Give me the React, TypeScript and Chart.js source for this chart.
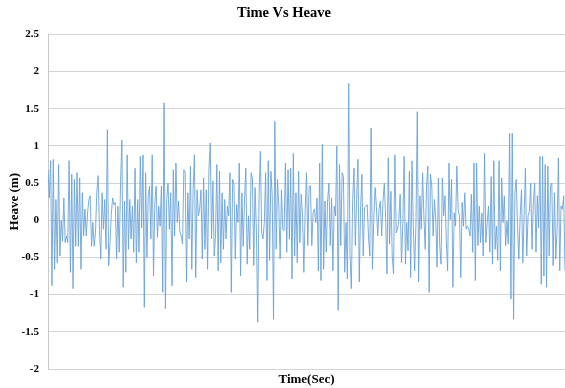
import React, { useEffect, useRef } from "react";
import { Chart, registerables } from "chart.js";

Chart.register(...registerables);

const heaveSegA = [
  0.68, 0.3, 0.8, -0.88, 0.82, -0.66, 0.28, -0.57, 0.75, -0.48, 0.0, -0.28, 0.3, -0.3, -0.21, -0.3, 0.8, -0.7,
  0.62, -0.92, 0.55, -0.35, 0.64, -0.35, 0.57, -0.66, 0.37, -0.21, 0.15, -0.21, 0.1, 0.28, 0.33, -0.35, -0.03,
  -0.35, -0.16, 0.37, 0.6, -0.12, -0.52, 0.37, -0.12, 0.28, -0.39, 1.22, -0.61, -0.3, 0.08, 0.3, 0.21, 0.24,
  -0.52, 0.19, -0.43, 0.5, 1.08, -0.9, 0.26, -0.7,
];
const heaveSegB = [
  0.88, -0.39, 0.28, -0.25, 0.19, -0.43, 0.7, -0.57, 0.28, -0.43, 0.86, -0.1, 0.88, -1.17, 0.64, -0.5, 0.33,
  0.46, -0.25, 0.88, -0.75, 0.24, 0.46, -0.23, 0.19, -0.08, 0.46, -0.97, 1.58, -1.19, 0.28, 0.5, -0.12, 0.37,
  -0.88, 0.68, -0.21, 0.77, -0.03, 0.26, -0.16, -0.21, -0.32, 0.68, 0.64, -0.83, 0.37, -0.25, 0.73, -0.66, 0.41,
  0.88, -0.77, 0.41, 0.06, 0.15, 0.41, -0.52, 0.57, -0.39, 0.41, -0.66, 0.68, 1.04, -0.25, 0.53, -0.48,
];
const heaveSegC = [
  -0.21, 0.75, -0.68, 0.66, -0.57, 0.37, -0.39, 0.28, -0.25, 0.19, 0.06, 0.64, -0.97, 0.55, 0.48, -0.52, 0.21,
  -0.03, 0.77, -0.75, 0.37, -0.35, 0.28, 0.7, -0.59, 0.06, -0.39, 0.64, 0.57, -0.61, 0.44, -0.12, -1.37, 0.33,
  0.93, -0.17, -0.25, -0.03, 0.64, -0.81, 0.8, -0.54, 0.66, 0.33, -1.33, 1.33, -0.39, 0.55, 0.19, -0.52, 0.41,
  -0.12, -0.14, 0.77, -0.43, 0.68, -0.25, 0.7, -0.79, 0.9, -0.48, 0.37, -0.57, 0.66,
];
const heaveSegD = [
  -0.3, 0.35, 0.06, -0.7, 0.15, 0.64, -0.34, 0.46, 0.46, -0.34, 0.1, 0.15, -0.03, 0.3, -0.68, 0.77, -0.81, 1.02,
  -0.66, 0.26, -0.43, 0.26, 0.5, -0.34, 0.3, -0.68, 0.19, 0.06, 1.0, -1.21, 0.75, -0.34, 0.64, 0.59, -0.7, -0.03,
  -0.79, 1.84, -0.48, -0.92, 0.28, 0.7, -0.34, 0.28, 0.82, -0.83, 0.15, 0.62, -0.48, 0.17, 0.19, 0.21, -0.21,
  -0.48, 1.24, -0.66, 0.01, 0.44, 0.19, -0.21, 0.15, 0.26, -0.21, 0.26, 0.5,
];
const heaveSegE = [
  0.03, -0.72, 0.84, -0.32, 0.39, -0.48, -0.72, 0.88, -0.17, -0.12, 0.01, 0.35, -0.57, -0.08, 0.86, -0.59, -0.03,
  -0.41, 0.66, -0.77, 0.8, -0.08, -0.68, -0.03, 1.46, -0.83, 0.33, -0.12, 0.64, 0.06, -0.39, 0.46, 0.73, -0.97,
  0.62, 0.46, -0.21, 0.28, 0.03, -0.63, 0.57, -0.34, -0.59, 0.57, 0.06, 0.33, -0.28, -0.68, 0.77, 0.01, 0.55,
  -0.9, 0.1, -0.08, 0.73, 0.15, 0.06, -0.77, 0.24, -0.08, 0.37, -0.12, -0.08, -0.12,
];
const heaveSegF = [
  -0.21, 0.35, -0.43, 0.77, -0.81, 0.77, -0.34, 0.19, -0.3, 0.1, -0.48, 0.9, -0.3, -0.03, 0.19, -0.43, 0.59,
  -0.59, 0.8, -0.39, -0.08, -0.54, 0.8, -0.68, 0.57, -0.03, 0.33, -0.34, -0.01, -0.32, 1.17, -1.06, 1.17, -1.33,
  0.37, 0.55, -0.08, -0.52, 0.06, 0.41, -0.57, 0.06, 0.7, -0.48, 0.06, 0.12, 0.5, -0.39, 0.24, 0.5, -0.43, 0.33,
  -0.1, 0.86, -0.86, 0.86, -0.75, 0.75, -0.9, 0.73, -0.48, 0.46, 0.5, -0.61, 0.37, -0.52, -0.12, 0.84, -0.68,
  0.19, 0.15, 0.33, -0.68,
];

const heave = [...heaveSegA, ...heaveSegB, ...heaveSegC, ...heaveSegD, ...heaveSegE, ...heaveSegF];
const yMin = -2;
const yMax = 2.5;
const yStep = 0.5;

const FONT = "'Liberation Serif', 'Times New Roman', serif";

export default function App() {
  const ref = useRef<HTMLCanvasElement | null>(null);
  useEffect(() => {
    if (!ref.current) return;
    const points = heave.map((v, i) => ({ x: i, y: v }));
    const chart = new Chart(ref.current, {
      type: "line",
      data: {
        datasets: [
          {
            data: points,
            borderColor: "#6aa3d9",
            borderWidth: 0.9,
            pointRadius: 0,
            tension: 0,
            fill: false,
          },
        ],
      },
      options: {
        animation: false,
        responsive: true,
        maintainAspectRatio: false,
        layout: { padding: { left: 3, right: 0, top: 0, bottom: 0 } },
        plugins: {
          legend: { display: false },
          tooltip: { enabled: false },
          title: {
            display: true,
            text: "Time Vs Heave",
            color: "#000",
            font: { family: FONT, size: 14.5, weight: "bold" },
            padding: { top: 5, bottom: 12 },
          },
        },
        scales: {
          x: {
            type: "linear",
            min: 0,
            max: heave.length - 1,
            ticks: { display: false },
            grid: { display: false },
            border: { display: false },
            title: {
              display: true,
              text: "Time(Sec)",
              color: "#000",
              font: { family: FONT, size: 13, weight: "bold" },
              padding: { top: 2, bottom: 1 },
            },
            afterFit: (scale: any) => {
              scale.height = 19;
            },
          },
          y: {
            min: yMin,
            max: yMax,
            ticks: {
              stepSize: yStep,
              color: "#000",
              font: { family: FONT, size: 11, weight: "bold" },
              padding: 9,
              callback: (v: any) => String(Math.round(Number(v) * 10) / 10),
            },
            grid: { color: "#d4d4d4", lineWidth: 1, drawTicks: false },
            border: { display: true, color: "#c8c8c8", width: 1 },
            title: {
              display: true,
              text: "Heave (m)",
              color: "#000",
              font: { family: FONT, size: 13, weight: "bold" },
              padding: { top: 4, bottom: 0 },
            },
            afterFit: (scale: any) => {
              scale.width = scale.width - 10;
            },
          },
        },
      },
    });
    return () => chart.destroy();
  }, []);
  return (
    <div style={{ position: "absolute", left: 0, top: 0, width: 565, height: 388, background: "#fff" }}>
      <canvas ref={ref} />
    </div>
  );
}
